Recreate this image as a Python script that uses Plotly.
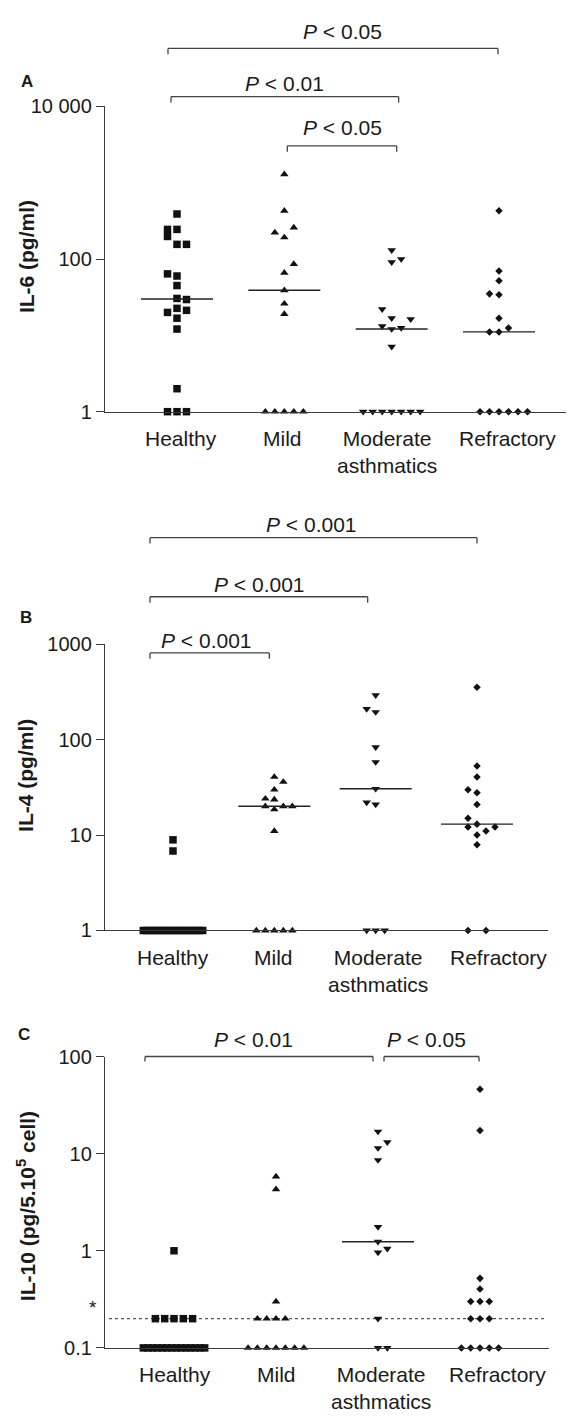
import numpy as np
import plotly.graph_objects as go

W, H = 570, 1417

# ---------------- data ----------------
CATEGORIES = ["Healthy", "Mild", "Moderate asthmatics", "Refractory"]
CATEGORY_LABELS = ["Healthy", "Mild", "Moderate<br>asthmatics", "Refractory"]

# Panel A: IL-6 (pg/ml)
IL6_HEALTHY = [390, 245, 198, 245, 156, 156, 64, 60, 45, 30.5, 29.5, 22.6, 21.3, 20, 16.8, 12.1, 2.0, 1, 1, 1]
IL6_MILD = [1290, 430, 223, 192, 259, 86, 66, 39, 26, 19, 1, 1, 1, 1, 1]
IL6_MODERATE = [131, 91, 100, 22, 16.8, 16.3, 13.2, 12.1, 12.5, 7.1, 1, 1, 1, 1, 1, 1, 1]
IL6_REFRACTORY = [430, 70, 52, 35, 34, 16.8, 11.1, 11.1, 12.5, 1, 1, 1, 1, 1, 1]
IL6_TICKS = [1, 100, 10000]
IL6_TICKTEXT = ["1", "100", "10 000"]
IL6_TESTS = [("Healthy", "Refractory", "0.05"),
             ("Healthy", "Moderate asthmatics", "0.01"),
             ("Mild", "Moderate asthmatics", "0.05")]

# Panel B: IL-4 (pg/ml)
IL4_HEALTHY = [8.9, 6.8] + [1] * 18
IL4_MILD = [40.6, 36, 29.8, 24, 23.5, 20, 18.5, 20, 20, 11, 1, 1, 1, 1, 1]
IL4_MODERATE = [291, 209, 194, 83, 58, 30.5, 21.9, 20.9, 1, 1, 1]
IL4_REFRACTORY = [352, 52.7, 40.6, 29.8, 27.7, 20.9, 15, 13, 12.1, 11, 12.1, 10, 7.9, 1, 1]
IL4_TICKS = [1, 10, 100, 1000]
IL4_TICKTEXT = ["1", "10", "100", "1000"]
IL4_TESTS = [("Healthy", "Refractory", "0.001"),
             ("Healthy", "Moderate asthmatics", "0.001"),
             ("Healthy", "Mild", "0.001")]

# Panel C: IL-10 (pg/5.10^5 cell)
IL10_HEALTHY = [1.0] + [0.2] * 5 + [0.1] * 14
IL10_MILD = [5.8, 4.3, 0.3] + [0.2] * 4 + [0.1] * 7
IL10_MODERATE = [16.9, 13.1, 11.4, 8.6, 1.76, 1.24, 0.96, 1.05, 0.2, 0.1, 0.1]
IL10_REFRACTORY = [46, 17.3, 0.52, 0.405, 0.3, 0.3, 0.3, 0.2, 0.2, 0.2, 0.1, 0.1, 0.1, 0.1, 0.1]
IL10_TICKS = [0.1, 1, 10, 100]
IL10_TICKTEXT = ["0.1", "1", "10", "100"]
IL10_LIMIT = 0.2
IL10_TESTS = [("Healthy", "Moderate asthmatics", "0.01"),
              ("Moderate asthmatics", "Refractory", "0.05")]

# ---------------- styling / layout ----------------
FONT = "Liberation Sans, Arial, Helvetica, sans-serif"
INK = "#1a1a1a"
AXC = "#3a3a3a"
SYMBOLS = ["square", "triangle-up", "triangle-down", "diamond"]
SIZES = [7.5, 7.5, 7.5, 5.8]


def row(n, span):
    return list(np.linspace(-span / 2, span / 2, n))


PANELS = [
    dict(letter="A", series=[IL6_HEALTHY, IL6_MILD, IL6_MODERATE, IL6_REFRACTORY], limit=1,
         ticks=IL6_TICKS, ticktext=IL6_TICKTEXT, title="IL-6 (pg/ml)", tests=IL6_TESTS, dotted=None,
         x_left=105, x_right=566, c1=177, c4=499, y_top=97, y_bot=407, yrange=(0, 4), step=9.5,
         slots=[[0, -1, -1, 0, 0, 1, -1, 0, 0, 0, 1, 0, 1, -1, 0, 0, 0, -1, 0, 1],
                [0, 0, -1, 0, 1, 1, 0, 0, 0, 0, -2, -1, 0, 1, 2],
                [0, 0, 1, -1, 0, 2, -1, 0, 1, 0, -3, -2, -1, 0, 1, 2, 3],
                [0, 0, 0, -1, 0, 0, -1, 0, 1, -2, -1, 0, 1, 2, 3]],
         label_y=433, label_dx=[4, -2, -5, 8], title_y=250, letter_xy=(27, 72),
         brackets=[(38, -9, -1, 9, 21), (87, -6, 7, 0, 74), (137, 3, 5, 0, 118)], tip=6),
    dict(letter="B", series=[IL4_HEALTHY, IL4_MILD, IL4_MODERATE, IL4_REFRACTORY], limit=1,
         ticks=IL4_TICKS, ticktext=IL4_TICKTEXT, title="IL-4 (pg/ml)", tests=IL4_TESTS, dotted=None,
         x_left=105, x_right=548, c1=173, c4=477, y_top=643, y_bot=934, yrange=(0, 3), step=9,
         slots=[[0, 0] + row(18, 6.6),
                [0, 1, 0, -1, 0, -1, 0, 1, 2, 0, -2, -1, 0, 1, 2],
                [0, -1, 0, 0, 0, 0, -1, 0, -1, 0, 1],
                [0, 0, 0, -1, 0, 0, -1, 0, -1, 1, 2, 0, 0, -1, 1]],
         label_y=960, label_dx=[0, -1, 2, 21], title_y=777, letter_xy=(26, 616),
         brackets=[(535, -23, 0, -2, 522), (595, -23, -8, 1, 583), (652, -23, -5, -3, 639)], tip=6),
    dict(letter="C", series=[IL10_HEALTHY, IL10_MILD, IL10_MODERATE, IL10_REFRACTORY], limit=IL10_LIMIT,
         ticks=IL10_TICKS, ticktext=IL10_TICKTEXT, title="IL-10 (pg/5.10<sup>5</sup> cell)", tests=IL10_TESTS,
         dotted=IL10_LIMIT,
         x_left=105, x_right=549, c1=174, c4=480, y_top=1062, y_bot=1358, yrange=(-1, 2), step=9.3,
         slots=[[0, -2, -1, 0, 1, 2] + row(14, 6.6),
                [0, 0, 0, -2, -1, 0, 1, -3, -2, -1, 0, 1, 2, 3],
                [0, 1, 0, 0, 0, 0, 0, 1, 0, 0, 1],
                [0, 0, 0, 0, -1, 0, 1, -1, 0, 1, -2, -1, 0, 1, 2]],
         label_y=1383, label_dx=[1, 0, 3, 17], title_y=1214, letter_xy=(24, 1040),
         brackets=[(1062, -29, -5, -6, 1045), (1062, 6, -1, -5.5, 1045)], tip=5),
]

fig = go.Figure()
layout = dict(width=W, height=H, margin=dict(l=0, r=0, t=0, b=0), paper_bgcolor="white",
              plot_bgcolor="white", showlegend=False, font=dict(family=FONT, color=INK))
annotations = []
shapes = []

for k, p in enumerate(PANELS, start=1):
    xid = "x" if k == 1 else f"x{k}"
    yid = "y" if k == 1 else f"y{k}"
    xname = "xaxis" if k == 1 else f"xaxis{k}"
    yname = "yaxis" if k == 1 else f"yaxis{k}"
    unit = (p["c4"] - p["c1"]) / 3.0
    xr = [1 - (p["c1"] - p["x_left"]) / unit, 4 + (p["x_right"] - p["c4"]) / unit]
    layout[xname] = dict(domain=[p["x_left"] / W, p["x_right"] / W], range=xr, anchor=yid,
                         showline=True, linecolor=AXC, linewidth=1.3, ticks="", showticklabels=False,
                         showgrid=False, zeroline=False, fixedrange=True)
    layout[yname] = dict(domain=[1 - p["y_bot"] / H, 1 - p["y_top"] / H], type="log",
                         range=list(p["yrange"]), anchor=xid, tickvals=p["ticks"], ticktext=p["ticktext"],
                         ticks="outside", ticklen=8, tickwidth=1.3, tickcolor=AXC, showline=True,
                         linecolor=AXC, linewidth=1.3, showgrid=False, zeroline=False, fixedrange=True,
                         tickfont=dict(family=FONT, size=20, color=INK))

    if p["dotted"] is not None:
        fig.add_trace(go.Scatter(x=[xr[0] + 4 / unit, xr[1] - 4 / unit], y=[p["dotted"], p["dotted"]],
                                 mode="lines", line=dict(color="#555555", width=1.3, dash="dot"),
                                 xaxis=xid, yaxis=yid, hoverinfo="skip"))
        annotations.append(dict(text="*", x=87 / W, y=1 - 1330 / H, xref="paper", yref="paper",
                                showarrow=False, font=dict(family=FONT, size=19, color=INK)))

    for i, vals in enumerate(p["series"]):
        pos = i + 1
        xs = pos + np.array(p["slots"][i], dtype=float) * p["step"] / unit
        fig.add_trace(go.Scatter(x=xs, y=vals, mode="markers", cliponaxis=False,
                                 marker=dict(symbol=SYMBOLS[i], size=SIZES[i], color="#111111",
                                             line=dict(width=0)),
                                 xaxis=xid, yaxis=yid, name=CATEGORIES[i]))
        med = float(np.median(vals))
        if med > p["limit"]:
            fig.add_trace(go.Scatter(x=[pos - 36 / unit, pos + 36 / unit], y=[med, med], mode="lines",
                                     line=dict(color="#222222", width=1.4), xaxis=xid, yaxis=yid,
                                     hoverinfo="skip"))
        annotations.append(dict(text=CATEGORY_LABELS[i], x=pos + p["label_dx"][i] / unit, xref=xid,
                                y=1 - (p["label_y"] - 12) / H, yref="paper", yanchor="top",
                                xanchor="center", showarrow=False,
                                font=dict(family=FONT, size=21, color=INK)))

    for (g0, g1, pv), (yl, dx0, dx1, tdx, ty) in zip(p["tests"], p["brackets"]):
        x0 = CATEGORIES.index(g0) + 1 + dx0 / unit
        x1 = CATEGORIES.index(g1) + 1 + dx1 / unit
        yl_p = 1 - yl / H
        yt_p = 1 - (yl + p["tip"]) / H
        lstyle = dict(color="#444444", width=1.3)
        shapes.append(dict(type="line", xref=xid, yref="paper", x0=x0, x1=x1, y0=yl_p, y1=yl_p, line=lstyle))
        shapes.append(dict(type="line", xref=xid, yref="paper", x0=x0, x1=x0, y0=yl_p, y1=yt_p, line=lstyle))
        shapes.append(dict(type="line", xref=xid, yref="paper", x0=x1, x1=x1, y0=yl_p, y1=yt_p, line=lstyle))
        annotations.append(dict(text=f"<i>P</i> &lt; {pv}", x=(x0 + x1) / 2 + tdx / unit, xref=xid,
                                y=1 - ty / H, yref="paper", yanchor="middle", xanchor="center",
                                showarrow=False, font=dict(family=FONT, size=21, color=INK)))

    annotations.append(dict(text=p["title"], x=26 / W, y=1 - p["title_y"] / H, xref="paper", yref="paper",
                            textangle=-90, showarrow=False, xanchor="center", yanchor="middle",
                            font=dict(family=FONT, size=21, color=INK, weight="bold")))
    lx, ly = p["letter_xy"]
    annotations.append(dict(text=p["letter"], x=lx / W, y=1 - ly / H, xref="paper", yref="paper",
                            showarrow=False, xanchor="center", yanchor="middle",
                            font=dict(family=FONT, size=17, color=INK, weight="bold")))

layout["annotations"] = annotations
layout["shapes"] = shapes
fig.update_layout(**layout)
fig.write_html("out.html")
